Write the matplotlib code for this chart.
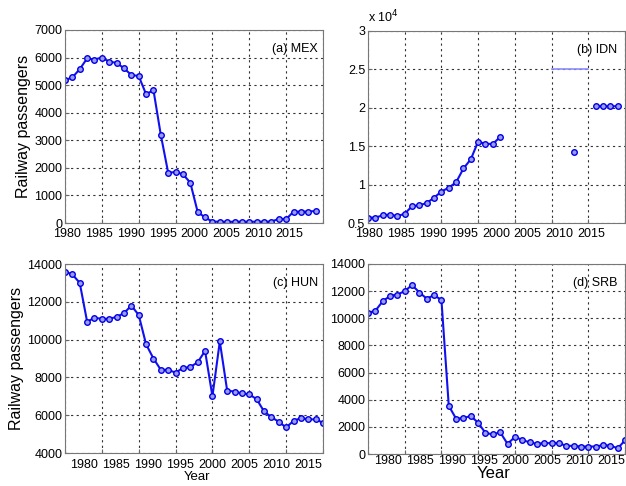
"""Пассажирские перевозки железнодорожным транспортом: MEX, IDN, HUN, SRB."""

import numpy as np
import matplotlib
matplotlib.use('Agg')
import matplotlib.pyplot as plt
from matplotlib.ticker import FuncFormatter

nan = np.nan

# Годы наблюдений (общие для всех стран)
years = list(range(1980, 2016))

mex = [5180, 5280, 5580, 5970, 5930, 6000, 5850, 5810, 5610, 5370,
       5330, 4670, 4820, 3190, 1820, 1850, 1770, 1460, 400, 200,
       50, 45, 40, 45, 45, 45, 45, 45, 50, 150,
       140, 410, 410, 415, 435, nan]

idn = [5700, 5700, 6000, 6100, 5900, 6200, 7200, 7300, 7600, 8300,
       9100, 9600, 10300, 12100, 13300, 15600, 15300, 15300, 16200, nan,
       nan, nan, nan, nan, nan, nan, nan, nan, 14300, nan,
       nan, 20200, 20200, 20200, 20200, nan]
# Отдельный отрезок на панели IDN
idn_line_years = [2005, 2010]
idn_line_vals = [25000, 25000]

hun = [13600, 13450, 13000, 10950, 11150, 11100, 11100, 11200, 11400, 11800,
       11300, 9750, 9000, 8400, 8400, 8250, 8500, 8550, 8800, 9400,
       7000, 9900, 7300, 7250, 7150, 7100, 6850, 6200, 5900, 5650,
       5350, 5700, 5850, 5780, 5780, 5600]

srb = [10400, 10550, 11250, 11650, 11750, 12000, 12450, 11900, 11450, 11700,
       11350, 3550, 2600, 2650, 2800, 2300, 1550, 1450, 1600, 750,
       1250, 1050, 850, 750, 800, 800, 800, 600, 600, 550,
       550, 550, 650, 620, 420, 1000]

x_ticks = list(range(1980, 2016, 5))
x_labels = [str(y) for y in x_ticks]

W, H = 626, 486
LINE = '#1010f0'


def px_axes(fig, left, top, right, bottom):
    """Оси по координатам в пикселях."""
    return fig.add_axes([left / W, 1 - bottom / H,
                         (right - left) / W, (bottom - top) / H])


def style_axes(ax, y_ticks, x_pad, lab_start, lab_step):
    """Сетка по годам; подписи годов идут своим (более плотным) шагом."""
    ax.set_xlim(1980, 2015)
    ax.set_xticks(x_ticks)
    ax.tick_params(axis='x', which='major', labelbottom=False)
    lab_pos = [lab_start + i * lab_step for i in range(len(x_ticks))]
    ax.set_xticks(lab_pos, labels=x_labels, minor=True)
    ax.tick_params(axis='x', which='minor', length=0, pad=x_pad,
                   labelsize=9)
    ax.set_yticks(y_ticks)
    ax.set_ylim(y_ticks[0], y_ticks[-1])
    ax.grid(True, which='major', color='#333333', linestyle=(0, (2, 3)),
            linewidth=0.8)
    ax.tick_params(which='major', direction='in', length=3, labelsize=9,
                   color='#666666')
    ax.tick_params(axis='y', pad=2)
    for sp in ax.spines.values():
        sp.set_color('#777777')


def draw_series(ax, values):
    ax.plot(years, values, '-o', color=LINE, linewidth=1.5,
            markersize=4, markerfacecolor='#9a9aff',
            markeredgecolor='#0000e0', markeredgewidth=1.0)


def tag(ax, text, x):
    ax.text(x, 0.9, text, transform=ax.transAxes, ha='right',
            va='center', fontsize=9)


plt.rcParams['font.family'] = ['Liberation Sans', 'DejaVu Sans']

fig = plt.figure(figsize=(W / 100, H / 100), dpi=100)

# (a) Мексика
ax = px_axes(fig, 65, 30, 323, 223)
style_axes(ax, list(range(0, 7001, 1000)), 3.3, 1980.3, 4.31)
draw_series(ax, mex)
tag(ax, '(a) MEX', 0.98)
ax.set_ylabel('Railway passengers', fontsize=11.5)
ax.yaxis.set_label_coords(-0.132, 0.5)

# (b) Индонезия, подписи оси в единицах 10^4
ax = px_axes(fig, 368, 31, 625, 223)
style_axes(ax, list(range(5000, 30001, 5000)), 3.3, 1980.2, 4.31)
ax.plot(idn_line_years, idn_line_vals, color='#8c8cff', linewidth=1.2)
draw_series(ax, idn)
ax.yaxis.set_major_formatter(FuncFormatter(lambda v, _: f'{v / 1e4:g}'))
ax.text(0.0, 1.03, r'x 10$^4$', transform=ax.transAxes, fontsize=9,
        va='bottom', ha='left')
tag(ax, '(b) IDN', 0.969)

# (c) Венгрия
ax = px_axes(fig, 65, 264, 323, 453)
style_axes(ax, list(range(4000, 14001, 2000)), 4.3, 1982.6, 4.34)
draw_series(ax, hun)
tag(ax, '(c) HUN', 0.98)
ax.set_ylabel('Railway passengers', fontsize=11.5)
ax.yaxis.set_label_coords(-0.159, 0.5)
ax.set_xlabel('Year', fontsize=9.5)
ax.xaxis.set_label_coords(0.51, -0.095)

# (d) Сербия
ax = px_axes(fig, 368, 264, 625, 454)
style_axes(ax, list(range(0, 14001, 2000)), 0.5, 1982.75, 4.34)
draw_series(ax, srb)
tag(ax, '(d) SRB', 0.969)
ax.set_xlabel('Year', fontsize=12)
ax.xaxis.set_label_coords(0.49, -0.062)

fig.savefig('out.png', dpi=100)
